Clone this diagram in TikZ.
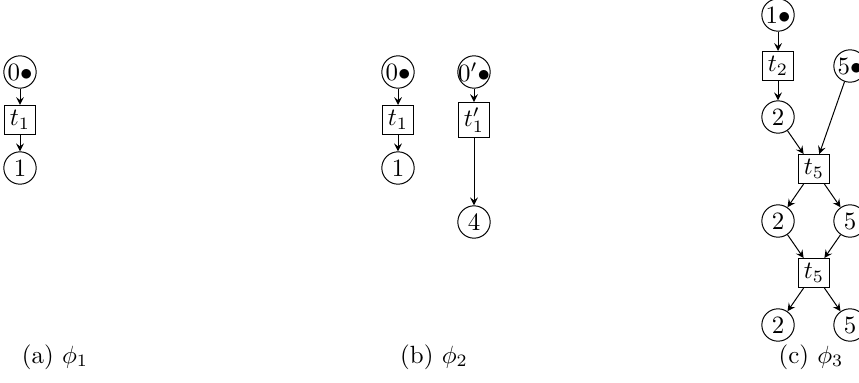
\documentclass[tikz,border=0pt]{standalone}
\usepackage{amsmath, amssymb}
\usepackage{tikz}
\usetikzlibrary{shapes, positioning}

\tikzset{
  placenode/.style={circle, draw, inner sep=0pt, minimum size=13pt},
  transnode/.style={rectangle, draw, inner sep=2pt, minimum size=11pt},
}

\begin{document}
\begin{tikzpicture}[> = stealth, x=0.4015pt, y=-0.4015pt]
  \useasboundingbox (0,0) rectangle (859,383);

  % phi 1
  \node [placenode] (a0) at (20,72) {$0\bullet$};
  \node [transnode] (at1) at (20,120) {$t_1$};
  \node [placenode] (a1) at (20,168) {$1$};
  \draw [->] (a0) -- (at1);
  \draw [->] (at1) -- (a1);
  \node (capa) at (55,357) {(a) $\phi_1$};

  % phi 2
  \node [placenode] (b0) at (398,72) {$0\bullet$};
  \node [placenode, inner sep=-0.8pt] (b0p) at (474,72) {$0'\bullet$};
  \node [transnode] (bt1) at (398,120) {$t_1$};
  \node [transnode] (bt1p) at (474,120) {$t'_1$};
  \node [placenode] (b1) at (398,168) {$1$};
  \node [placenode] (b4) at (474,222) {$4$};
  \draw [->] (b0) -- (bt1);
  \draw [->] (bt1) -- (b1);
  \draw [->] (b0p) -- (bt1p);
  \draw [->] (bt1p) -- (b4);
  \node (capb) at (434,357) {(b) $\phi_2$};

  % phi 3
  \node [placenode] (c1) at (778,15) {$1\bullet$};
  \node [transnode] (ct2) at (778,66) {$t_2$};
  \node [placenode] (c2) at (778,117) {$2$};
  \node [placenode] (c5) at (850,66) {$5\bullet$};
  \node [transnode] (ct5) at (814,169) {$t_5$};
  \node [placenode] (c2b) at (778,221) {$2$};
  \node [placenode] (c5b) at (850,221) {$5$};
  \node [transnode] (ct5b) at (814,273) {$t_5$};
  \node [placenode] (c2c) at (778,325) {$2$};
  \node [placenode] (c5c) at (850,325) {$5$};
  \draw [->] (c1) -- (ct2);
  \draw [->] (ct2) -- (c2);
  \draw [->] (c2) -- (ct5);
  \draw [->] (c5) -- (ct5);
  \draw [->] (ct5) -- (c2b);
  \draw [->] (ct5) -- (c5b);
  \draw [->] (c2b) -- (ct5b);
  \draw [->] (c5b) -- (ct5b);
  \draw [->] (ct5b) -- (c2c);
  \draw [->] (ct5b) -- (c5c);
  \node (capc) at (811,357) {(c) $\phi_3$};
\end{tikzpicture}
\end{document}
